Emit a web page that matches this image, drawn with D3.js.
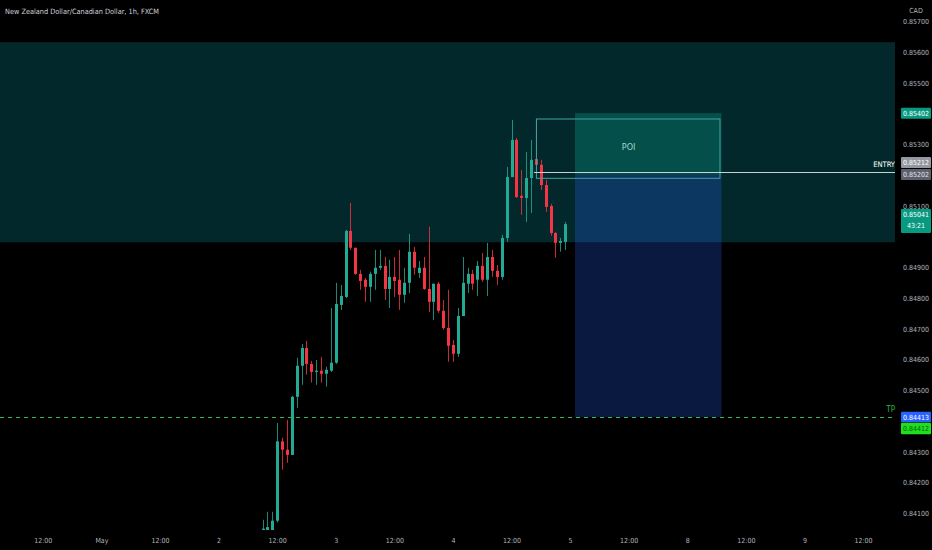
<!DOCTYPE html>
<html><head><meta charset="utf-8">
<script src="https://cdn.jsdelivr.net/npm/d3@7"></script>
<style>html,body{margin:0;padding:0;background:#000;overflow:hidden}</style>
</head><body><svg id="c" width="932" height="550"></svg>
<script>
const title = "New Zealand Dollar/Canadian Dollar, 1h, FXCM";
const currency = "CAD";
// hour index of first bar (trading hours since May 1 00:00, weekend removed): May 2 09:00
const firstBarHour = 33;
const opens = [0.84035,0.84040,0.84045,0.84076,0.84334,0.84307,0.84290,0.84479,0.84580,0.84638,
0.84586,0.84560,0.84564,0.84554,0.84564,0.84590,0.84778,0.84804,0.85019,0.84964,
0.84879,0.84860,0.84837,0.84879,0.84899,0.84905,0.84830,0.84869,0.84860,0.84811,
0.84850,0.84951,0.84882,0.84899,0.84830,0.84788,0.84847,0.84759,0.84703,0.84648,
0.84619,0.84742,0.84847,0.84879,0.84860,0.84905,0.84860,0.84934,0.84889,0.84869,
0.84996,0.85194,0.85315,0.85133,0.85126,0.85191,0.85253,0.85234,0.85168,0.85100,
0.85012,0.84980,0.84983];
const highs = [0.84079,0.84105,0.84105,0.84394,0.84346,0.84404,0.84482,0.84606,0.84651,0.84661,
0.84596,0.84599,0.84609,0.84577,0.84768,0.84850,0.84843,0.85022,0.85110,0.84964,
0.84892,0.84866,0.84886,0.84957,0.84957,0.84934,0.84925,0.84934,0.84957,0.84899,
0.85009,0.84967,0.84921,0.84934,0.85032,0.84847,0.84853,0.84794,0.84827,0.84664,
0.84768,0.84934,0.84899,0.84892,0.84921,0.84947,0.84980,0.84957,0.84908,0.85006,
0.85227,0.85380,0.85321,0.85217,0.85276,0.85315,0.85383,0.85250,0.85185,0.85107,
0.85016,0.84996,0.85048];
const lows = [0.84020,0.84025,0.84035,0.84070,0.84242,0.84264,0.84290,0.84443,0.84518,0.84551,
0.84525,0.84518,0.84525,0.84512,0.84560,0.84586,0.84762,0.84800,0.84957,0.84876,
0.84827,0.84788,0.84788,0.84827,0.84892,0.84794,0.84768,0.84804,0.84762,0.84785,
0.84817,0.84876,0.84866,0.84827,0.84755,0.84729,0.84752,0.84697,0.84593,0.84593,
0.84609,0.84742,0.84817,0.84827,0.84807,0.84853,0.84807,0.84869,0.84843,0.84860,
0.84983,0.85194,0.85126,0.85071,0.85048,0.85077,0.85217,0.85152,0.85081,0.85003,
0.84931,0.84951,0.84957];
const closes = [0.84050,0.84055,0.84076,0.84334,0.84307,0.84290,0.84479,0.84580,0.84638,0.84586,
0.84560,0.84564,0.84554,0.84567,0.84590,0.84781,0.84807,0.85019,0.84964,0.84879,
0.84856,0.84837,0.84879,0.84899,0.84905,0.84830,0.84869,0.84856,0.84811,0.84850,
0.84951,0.84899,0.84899,0.84830,0.84788,0.84847,0.84759,0.84703,0.84645,0.84619,
0.84742,0.84850,0.84879,0.84847,0.84905,0.84860,0.84934,0.84889,0.84869,0.84996,
0.85194,0.85315,0.85129,0.85126,0.85191,0.85250,0.85234,0.85168,0.85097,0.85012,
0.84980,0.84986,0.85041];
const priceTicks = [0.857,0.856,0.855,0.853,0.851,0.849,0.848,0.847,0.846,0.845,0.843,0.842,0.841];
const timeTickHours = [-12,0,12,24,36,48,60,72,84,96,108,120,132,144,156];
const timeTickLabels = ["12:00","May","12:00","2","12:00","3","12:00","4","12:00","5","12:00","8","12:00","9","12:00"];
// zones / drawings
const zoneTop = 0.85633, zoneBottom = 0.84982;
const poiTop = 0.85402, entryPrice = 0.85212, entryLow = 0.85202, tpPrice = 0.84413, tpPrice2 = 0.84412;
const outlineTop = 0.85383, outlineBottom = 0.85190;
const boxStartHour = 97, boxEndHour = 127, outlineStartHour = 89, poiTextHour = 108;
const lastPrice = 0.85041, countdown = "43:21";

const FONT = "'Liberation Sans Narrow','DejaVu Sans Condensed',Arial,sans-serif";
const W = 932, H = 550, plotRight = 895, plotBottom = 530;
const svg = d3.select("#c");
svg.append("rect").attr("width",W).attr("height",H).attr("fill","#000");

const x = d3.scaleLinear().domain([0,96]).range([101.4,570.1]);
const y = d3.scaleLinear().domain([0.841,0.856]).range([513.3,52.3]);

svg.append("defs").append("clipPath").attr("id","plot").append("rect")
  .attr("x",0).attr("y",0).attr("width",plotRight).attr("height",plotBottom);
const g = svg.append("g").attr("clip-path","url(#plot)");

// supply zone
g.append("rect").attr("x",0).attr("width",plotRight)
  .attr("y",y(zoneTop)).attr("height",y(zoneBottom)-y(zoneTop)).attr("fill","#03282b");
// short position boxes
g.append("rect").attr("x",x(boxStartHour)).attr("width",x(boxEndHour)-x(boxStartHour))
  .attr("y",y(entryLow)).attr("height",y(tpPrice)-y(entryLow)).attr("fill","rgba(41,98,255,0.25)");
g.append("rect").attr("x",x(boxStartHour)).attr("width",x(boxEndHour)-x(boxStartHour))
  .attr("y",y(poiTop)).attr("height",y(entryLow)-y(poiTop)).attr("fill","rgba(8,153,129,0.35)");

// candles
const bars = opens.map((o,i)=>({t:firstBarHour+i,o,h:highs[i],l:lows[i],c:closes[i]}));
const up = "#22ab94", dn = "#f23645";
g.selectAll("line.wick").data(bars).join("line").attr("class","wick")
  .attr("x1",d=>Math.round(x(d.t))+0.5).attr("x2",d=>Math.round(x(d.t))+0.5)
  .attr("y1",d=>y(d.h)).attr("y2",d=>y(d.l))
  .attr("stroke",d=>d.c>=d.o?up:dn).attr("stroke-width",1).attr("stroke-opacity",0.8);
g.selectAll("rect.body").data(bars).join("rect").attr("class","body")
  .attr("x",d=>Math.round(x(d.t))-1).attr("width",3)
  .attr("y",d=>y(Math.max(d.o,d.c))).attr("height",d=>Math.max(1,Math.abs(y(d.o)-y(d.c))))
  .attr("fill",d=>d.c>=d.o?up:dn);

// outline box (POI)
g.append("rect").attr("x",x(outlineStartHour)+0.5).attr("width",x(boxEndHour)-x(outlineStartHour)-2)
  .attr("y",y(outlineTop)).attr("height",y(outlineBottom)-y(outlineTop))
  .attr("fill","none").attr("stroke","#3fa3a0").attr("stroke-width",1);
g.append("text").attr("x",x(poiTextHour)).attr("y",y((poiTop+entryLow)/2)+6)
  .attr("text-anchor","middle").attr("font-family",FONT).attr("font-size",9)
  .attr("fill","#9fd6cc").text("POI");
// entry line
g.append("line").attr("x1",x(outlineStartHour)-2).attr("x2",plotRight)
  .attr("y1",Math.round(y(entryPrice))+0.5).attr("y2",Math.round(y(entryPrice))+0.5)
  .attr("stroke","#c6d2d2").attr("stroke-width",1);
svg.append("text").attr("x",895).attr("y",y(entryPrice)-5).attr("text-anchor","end")
  .attr("font-family",FONT).attr("font-size",7.5).attr("fill","#ffffff").text("ENTRY");
// TP line
g.append("line").attr("x1",0).attr("x2",plotRight)
  .attr("y1",Math.round(y(tpPrice))+0.5).attr("y2",Math.round(y(tpPrice))+0.5)
  .attr("stroke","#3cb850").attr("stroke-width",1.2).attr("stroke-dasharray","4,4");
svg.append("text").attr("x",895).attr("y",y(tpPrice)-5).attr("text-anchor","end")
  .attr("font-family",FONT).attr("font-size",8).attr("fill","#2fb34a").text("TP");

// title
svg.append("text").attr("x",5).attr("y",14).attr("font-family",FONT).attr("font-size",7.3)
  .attr("fill","#d1d4dc").text(title);

// price axis
const ya = svg.append("g").attr("transform",`translate(${plotRight},0)`)
  .call(d3.axisRight(y).tickValues(priceTicks).tickFormat(d3.format(".5f")).tickSize(0));
ya.select(".domain").remove();
ya.selectAll("text").attr("x",21).attr("text-anchor","middle")
  .attr("font-family",FONT).attr("font-size",7).attr("fill","#b2b5be");
svg.append("rect").attr("x",plotRight).attr("y",0).attr("width",W-plotRight).attr("height",19).attr("fill","#000");
svg.append("text").attr("x",916).attr("y",13).attr("text-anchor","middle")
  .attr("font-family",FONT).attr("font-size",7).attr("fill","#b2b5be").text(currency);

// time axis
const xa = svg.append("g").attr("transform",`translate(0,${plotBottom+5})`)
  .call(d3.axisBottom(x).tickValues(timeTickHours).tickFormat((d,i)=>timeTickLabels[i]).tickSize(0));
xa.select(".domain").remove();
xa.selectAll("text").attr("y",3).attr("font-family",FONT).attr("font-size",7).attr("fill","#b2b5be");

// price labels
function priceLabel(yc, h, bg, fg, lines){
  const gg = svg.append("g");
  gg.append("rect").attr("x",901).attr("y",yc-h/2).attr("width",30).attr("height",h).attr("rx",1).attr("fill",bg);
  lines.forEach((s,i)=>{
    gg.append("text").attr("x",916).attr("y",yc-h/2+8+i*11).attr("text-anchor","middle")
      .attr("font-family",FONT).attr("font-size",7).attr("fill",fg).text(s);
  });
}
const f5 = d3.format(".5f");
priceLabel(y(poiTop), 11, "#089981", "#ffffff", [f5(poiTop)]);
priceLabel(y(entryPrice)-9, 11, "#9598a1", "#ffffff", [f5(entryPrice)]);
priceLabel(y(entryLow), 11, "#5d606b", "#e0e3eb", [f5(entryLow)]);
priceLabel(y(lastPrice)-3, 24, "#089981", "#ffffff", [f5(lastPrice), countdown]);
priceLabel(y(tpPrice), 10.5, "#2962ff", "#ffffff", [f5(tpPrice)]);
priceLabel(y(tpPrice)+11.5, 11.5, "#1fe01f", "#0a5a0a", [f5(tpPrice2)]);
</script></body></html>
